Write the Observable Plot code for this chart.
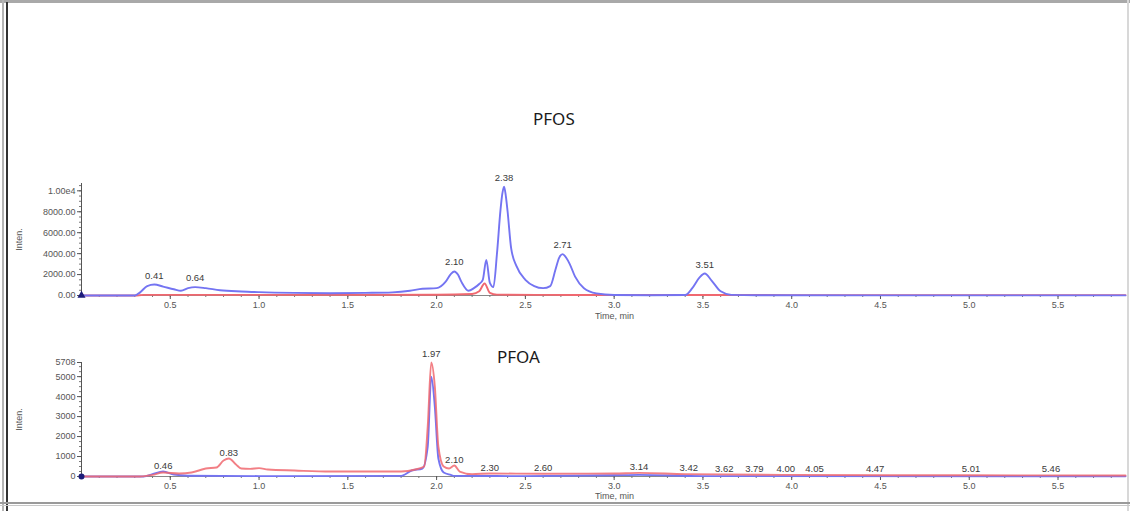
<!DOCTYPE html>
<html><head><meta charset="utf-8">
<script src="https://cdn.jsdelivr.net/npm/d3@7"></script>
<script src="https://cdn.jsdelivr.net/npm/@observablehq/plot@0.6"></script>
<style>
body{margin:0;background:#fff;}
#wrap{position:relative;width:1130px;height:511px;overflow:hidden;background:#fff;}
.ttl{position:absolute;font-family:"Noto Sans","Open Sans",sans-serif;font-size:17px;color:#1a1a1a;line-height:1;}
.pl{position:absolute;left:0;}
.bd{position:absolute;}
</style></head><body>
<div id="wrap">
  <div class="ttl" style="left:533px;top:110px;">PFOS</div>
  <div class="ttl" style="left:497px;top:348px;">PFOA</div>
  <div class="pl" id="top" style="top:160px;"></div>
  <div class="pl" id="bot" style="top:345px;"></div>
  <div class="bd" style="left:0;top:0;width:1130px;height:3px;background:#a9a9a9"></div>
  <div class="bd" style="left:2px;top:0;width:2px;height:511px;background:#b5b5b5"></div>
  <div class="bd" style="left:6px;top:2px;width:2px;height:509px;background:#333"></div>
  <div class="bd" style="left:1127px;top:0;width:2px;height:511px;background:#d8d8d8"></div>
  <div class="bd" style="left:0;top:502px;width:1130px;height:2px;background:#9a9a9a"></div>
  <div class="bd" style="left:0;top:505px;width:1130px;height:1px;background:#c8c8c8"></div>
</div>
<script>
// ---- PFOS panel data ----
const pfosBlueT = [0,0.30,0.33,0.37,0.41,0.46,0.52,0.56,0.60,0.64,0.70,0.78,0.90,1.00,1.20,1.40,1.60,1.75,1.85,1.92,2.00,2.05,2.08,2.10,2.12,2.14,2.18,2.21,2.24,2.26,2.28,2.30,2.32,2.34,2.36,2.37,2.38,2.39,2.40,2.42,2.45,2.50,2.55,2.60,2.64,2.67,2.69,2.71,2.73,2.75,2.78,2.83,2.90,3.00,3.20,3.40,3.44,3.48,3.51,3.55,3.60,3.66,3.80,4.50,5.88];
const pfosBlueV = [0,0,300,900,1050,850,600,450,700,800,700,500,380,320,250,220,250,300,450,650,700,1300,2050,2300,2000,1300,450,700,1100,1500,3400,1200,800,4000,8200,9700,10400,9500,8000,4500,2800,1500,900,700,900,2500,3600,3950,3600,3000,1800,700,200,50,30,50,700,1700,2100,1400,400,60,20,15,10];
const pfosRedT = [0,0.30,0.35,1.00,2.00,2.20,2.24,2.27,2.30,2.34,2.60,3.00,4.00,5.88];
const pfosRedV = [0,0,60,60,70,150,400,1150,250,80,60,50,40,40];
const pfosLabT = [0.41,0.64,2.10,2.38,2.71,3.51];
const pfosLabV = [1050,800,2300,10400,3950,2100];
const pfosLabTxt = ["0.41","0.64","2.10","2.38","2.71","3.51"];
const pfosYTicks = [0,2000,4000,6000,8000,10000];

// ---- PFOA panel data ----
const pfoaRedT = [0,0.33,0.40,0.46,0.55,0.62,0.70,0.76,0.80,0.83,0.87,0.90,0.95,1.00,1.05,1.20,1.40,1.60,1.80,1.88,1.93,1.95,1.97,1.99,2.01,2.04,2.07,2.10,2.13,2.20,2.30,2.60,3.00,3.14,3.40,4.00,5.00,5.88];
const pfoaRedV = [0,0,80,200,150,200,400,450,800,900,600,400,380,420,350,300,250,250,250,350,500,2500,5708,4500,1500,500,400,550,250,120,150,140,150,180,120,80,60,50];
const pfoaBlueT = [0,0.35,0.40,0.46,0.52,0.60,1.00,1.80,1.86,1.92,1.95,1.97,1.99,2.01,2.04,2.08,2.10,2.50,3.00,3.14,3.50,5.88];
const pfoaBlueV = [0,0,120,250,100,40,20,30,300,400,1500,5000,3500,900,200,80,30,20,60,80,20,10];
const pfoaLabT = [0.46,0.83,1.97,2.10,2.30,2.60,3.14,3.42,3.62,3.79,4.00,4.05,4.47,5.01,5.46];
const pfoaLabV = [250,900,5708,550,150,140,180,120,100,90,80,80,70,60,60];
const pfoaLabTxt = ["0.46","0.83","1.97","2.10","2.30","2.60","3.14","3.42","3.62","3.79","4.00","4.05","4.47","5.01","5.46"];
const pfoaYTicks = [0,1000,2000,3000,4000,5000,5708];

const xTicks = [0.5,1.0,1.5,2.0,2.5,3.0,3.5,4.0,4.5,5.0,5.5];
const xDomain = [0, 5.88];

const BLUE = "#7474f2", RED = "#f06870", AX = "#555", TXT = "#3a3a3a";
const FONT = "'Liberation Sans', Arial, sans-serif";

const toRows = (T, V) => T.map((t, i) => ({t, v: V[i]}));
const labRows = (T, V, S) => T.map((t, i) => ({t, v: V[i], s: S[i]}));

function panel(o) {
  const minorX = d3.range(0.1, 5.85, 0.1);
  const marks = [
    Plot.ruleY([0], {stroke: "#888", strokeWidth: 1}),
    Plot.ruleX([0], {stroke: AX, strokeWidth: 1}),
    Plot.axisX({ticks: minorX, tickSize: 2, tickFormat: () => "", stroke: "#777", label: null}),
    Plot.axisX({ticks: xTicks, tickSize: 4, tickPadding: 2, tickFormat: d3.format(".1f"), fontSize: 9, color: AX, label: null}),
    Plot.axisY({ticks: o.minorY, tickSize: 2, tickFormat: () => "", stroke: "#777", label: null}),
    Plot.axisY({ticks: o.yTicks, tickSize: 4, tickPadding: 2, tickFormat: o.yFmt, fontSize: 9, color: AX,
      label: "Inten.", labelAnchor: "center", labelOffset: 66, labelArrow: "none"}),
    Plot.text(["Time, min"], {frameAnchor: "bottom", dy: o.timeDy, dx: 11, fontSize: 9, fill: AX}),
  ];
  for (const s of o.series) {
    marks.push(Plot.line(s.rows, {x: "t", y: "v", stroke: s.color, strokeWidth: 1.9, curve: "monotone-x", strokeOpacity: s.op ?? 1}));
  }
  marks.push(Plot.dot([{t: 0, v: 0}], {x: "t", y: "v", r: 3, fill: "#1c1c7a", symbol: o.sym}));
  for (const L of o.labels) {
    marks.push(Plot.text(L.rows, {x: "t", y: "v", text: "s", dy: o.labDy + (L.dy || 0), dx: L.dx || 0, lineAnchor: "bottom", fontSize: 9.5, fill: TXT}));
  }
  return Plot.plot({
    width: 1130, height: o.height,
    marginLeft: 81, marginRight: 5, marginTop: o.marginTop, marginBottom: o.marginBottom,
    style: {fontFamily: FONT, background: "transparent", overflow: "visible"},
    x: {domain: xDomain, axis: null},
    y: {domain: o.yDomain, axis: null},
    marks
  });
}

// PFOS panel
const pfosLabs = labRows(pfosLabT, pfosLabV, pfosLabTxt);
document.getElementById("top").append(panel({
  height: 170, marginTop: 23, marginBottom: 35,
  yDomain: [0, 10700], yTicks: pfosYTicks,
  minorY: d3.range(500, 10700, 500),
  yFmt: v => v === 10000 ? "1.00e4" : v.toFixed(2),
  sym: "triangle", labDy: -6, timeDy: 23,
  series: [
    {rows: toRows(pfosRedT, pfosRedV), color: RED},
    {rows: toRows(pfosBlueT, pfosBlueV), color: BLUE}
  ],
  labels: [{rows: pfosLabs}]
}));

// PFOA panel
const pfoaAll = labRows(pfoaLabT, pfoaLabV, pfoaLabTxt);
document.getElementById("bot").append(panel({
  height: 161, marginTop: 17, marginBottom: 30,
  yDomain: [0, 5708], yTicks: pfoaYTicks,
  minorY: d3.range(250, 5708, 250),
  yFmt: v => String(v),
  sym: "circle", labDy: -3, timeDy: 22,
  series: [
    {rows: toRows(pfoaBlueT, pfoaBlueV), color: BLUE},
    {rows: toRows(pfoaRedT, pfoaRedV), color: RED, op: 0.85}
  ],
  labels: [
    {rows: pfoaAll.filter(d => d.s !== "4.00" && d.s !== "4.05" && d.s !== "1.97")},
    {rows: pfoaAll.filter(d => d.s === "1.97"), dy: -3},
    {rows: pfoaAll.filter(d => d.s === "4.00"), dx: -6},
    {rows: pfoaAll.filter(d => d.s === "4.05"), dx: 14}
  ]
}));
</script>
</body></html>
